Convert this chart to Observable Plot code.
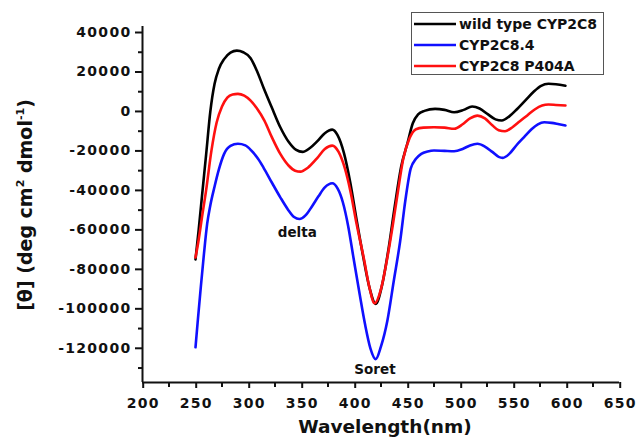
<!DOCTYPE html>
<html>
<head>
<meta charset="utf-8">
<script src="https://cdn.jsdelivr.net/npm/d3@7"></script>
<script src="https://cdn.jsdelivr.net/npm/@observablehq/plot@0.6"></script>
<style>
  body { margin: 0; background: #fff; }
  #wrap { position: relative; width: 636px; height: 440px; font-family: 'DejaVu Sans', sans-serif; }
  #wrap svg g[aria-label="y-axis tick label"] text,
  #wrap svg g[aria-label="x-axis tick label"] text { letter-spacing: 1.3px; }
  #legend { position: absolute; left: 411px; top: 12px; width: 193px; height: 63px; border: 1px solid #555; background: #fff; box-sizing: border-box; }
  .row { position: absolute; left: 0; height: 20px; display: flex; align-items: center; }
  .row span { font-family: 'DejaVu Sans', sans-serif; font-weight: bold; font-size: 14px; color: #111; margin-left: 3px; white-space: nowrap; }
</style>
</head>
<body>
<div id="wrap"></div>
<script>
// ---- data ----
const wlWild = [250,253,256,260,264,268,272,277,283,289,295,302,308,314,322,330,338,345,351,358,365,372,379,384,390,396,402,408,414,420,426,432,438,444,450,455,460,466,476,485,494,503,511,518,526,533,539,546,553,561,569,576,583,590,599];
const wildType = [-75000,-60000,-43500,-22000,0,14000,21500,26500,29800,30800,30000,27000,20500,12300,2000,-8000,-15500,-19500,-20500,-18500,-15000,-11000,-9200,-12000,-21000,-36000,-55000,-73000,-89000,-97500,-88000,-70000,-48000,-28000,-16000,-6000,-1500,300,1300,800,-400,800,2500,1500,-1500,-4000,-4600,-2500,1000,5500,10000,13000,14000,13800,13000];

const wl84 = [250,252,255,258,261,264,268,272,277,283,290,297,303,309,314,322,330,337,343,348,354,360,366,372,379,384,389,394,399,405,410,415,420,425,431,437,443,448,453,458,463,469,475,485,494,502,509,516,523,530,536,540,546,553,560,567,573,579,586,593,599];
const cyp2c84 = [-119500,-107000,-89000,-72000,-57000,-47500,-38000,-29500,-21500,-17500,-16400,-17200,-20000,-24000,-28300,-36000,-43500,-49500,-53500,-54500,-52500,-48000,-43000,-38500,-36400,-39000,-46000,-58000,-74000,-93000,-108000,-120000,-125500,-119000,-106000,-86000,-66000,-45000,-29000,-24000,-21500,-20300,-19800,-20000,-20150,-19000,-17200,-16400,-17800,-20500,-23000,-23500,-21500,-17000,-13000,-9000,-6500,-5500,-5800,-6500,-7100];

const wlP404A = [250,253,256,260,265,270,275,280,285,290,296,302,308,315,322,330,338,344,349,356,365,372,379,385,391,396,402,409,414,419,425,431,436,440,446,452,458,465,475,485,494,502,509,516,523,530,536,542,549,556,563,570,577,583,590,599];
const p404a = [-74000,-65000,-54000,-40000,-20000,-5500,2500,7000,8600,8900,8000,5500,1500,-4600,-13000,-21500,-27500,-30000,-30500,-28500,-23500,-19000,-17300,-20500,-29000,-40000,-57000,-75000,-89000,-97200,-90000,-74000,-58000,-44000,-24000,-13500,-9000,-8200,-8000,-8200,-8800,-6500,-3500,-2100,-3500,-7000,-9500,-10000,-8000,-5000,-2000,1000,3000,3500,3300,3000];

const seriesNames = ["wild type CYP2C8", "CYP2C8.4", "CYP2C8 P404A"];
const seriesColors = ["#000000", "#1010ff", "#ff1010"];

const xMajor = [200,250,300,350,400,450,500,550,600,650];
const xMinor = [225,275,325,375,425,475,525,575,625];
const yMajor = [-120000,-100000,-80000,-60000,-40000,-20000,0,20000,40000];
const yMinor = [-130000,-110000,-90000,-70000,-50000,-30000,-10000,10000,30000];
const annotations = [
  {x: 346, y: -61400, label: "delta"},
  {x: 419.3, y: -130800, label: "Soret"}
];
const xDomain = [200, 650];
const yDomain = [-137330, 43040];

// ---- build tables ----
const toRows = (wls, vals, name) => wls.map((w, i) => ({wl: w, v: vals[i], s: name}));
const rows = [
  ...toRows(wlWild, wildType, seriesNames[0]),
  ...toRows(wl84, cyp2c84, seriesNames[1]),
  ...toRows(wlP404A, p404a, seriesNames[2])
];

const lineMarks = seriesNames.map((name, i) =>
  Plot.line(rows.filter(r => r.s === name), {x: "wl", y: "v", stroke: seriesColors[i], strokeWidth: 2.6, curve: "monotone-x"})
);

const chart = Plot.plot({
  width: 636,
  height: 440,
  marginLeft: 142,
  marginRight: 17,
  marginTop: 26,
  marginBottom: 58,
  style: {fontFamily: "'DejaVu Sans', sans-serif", color: "#111", background: "#fff"},
  x: {domain: xDomain, label: null},
  y: {domain: yDomain, label: null},
  marks: [
    Plot.axisY(yMajor, {tickSize: 7, tickPadding: 4, tickFormat: d => String(d), fontSize: 14, fontWeight: "bold", strokeWidth: 2, label: null}),
    Plot.axisY(yMinor, {tickSize: 4, tickFormat: () => "", strokeWidth: 2, label: null}),
    Plot.axisX(xMajor, {tickSize: 6, tickPadding: 10, dx: 0.7, tickFormat: d => String(d), fontSize: 14, fontWeight: "bold", strokeWidth: 2, label: null}),
    Plot.axisX(xMinor, {tickSize: 5, tickFormat: () => "", strokeWidth: 2, label: null}),
    Plot.ruleX([xDomain[0]], {strokeWidth: 2, stroke: "#111"}),
    Plot.ruleY([yDomain[0]], {strokeWidth: 2, stroke: "#111"}),
    lineMarks[0],
    lineMarks[1],
    lineMarks[2],
    Plot.text(annotations, {x: "x", y: "y", text: "label", fontSize: 13.5, fontWeight: "bold", fill: "#111", ariaLabel: "annot"})
  ]
});

const wrap = document.getElementById("wrap");
wrap.appendChild(chart);

// axis titles
const svg = d3.select(chart);
svg.append("text")
  .attr("x", 385).attr("y", 433)
  .attr("text-anchor", "middle")
  .attr("font-size", 18.5).attr("font-weight", "bold").attr("fill", "#111")
  .text("Wavelength(nm)");

const yl = svg.append("text")
  .attr("transform", "translate(32,205) rotate(-90)")
  .attr("text-anchor", "middle")
  .attr("font-size", 19).attr("font-weight", "bold").attr("fill", "#111");
yl.append("tspan").text("[θ] (deg cm");
yl.append("tspan").attr("font-size", 11).attr("dy", -8).text("2");
yl.append("tspan").attr("dy", 8).text(" dmol");
yl.append("tspan").attr("font-size", 11).attr("dy", -8).text("-1");
yl.append("tspan").attr("dy", 8).text(")");

// legend
const legend = document.createElement("div");
legend.id = "legend";
const rowTops = [1, 22, 43];
seriesNames.forEach((name, i) => {
  const r = document.createElement("div");
  r.className = "row";
  r.style.top = rowTops[i] + "px";
  r.innerHTML = `<svg width="44" height="20"><line x1="2" x2="44" y1="10" y2="10" stroke="${seriesColors[i]}" stroke-width="2.6"/></svg><span>${name}</span>`;
  legend.appendChild(r);
});
wrap.appendChild(legend);
</script>
</body>
</html>
